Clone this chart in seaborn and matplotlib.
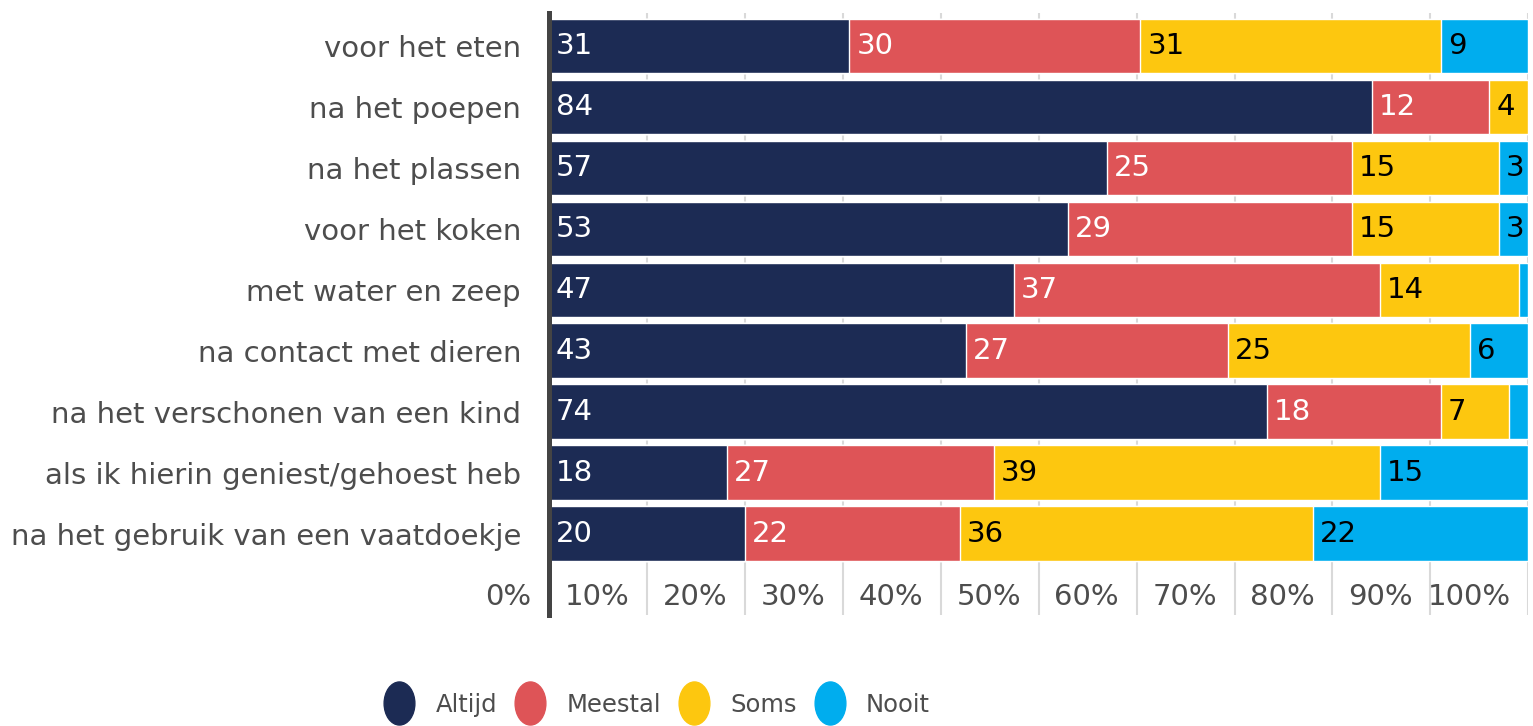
import matplotlib
matplotlib.use("Agg")
import matplotlib.pyplot as plt
import pandas as pd
import seaborn as sns
from matplotlib.lines import Line2D
from matplotlib.path import Path
from matplotlib.transforms import Affine2D

# data (counts per answer, rows are normalised to 100%)
categories = [
    "voor het eten",
    "na het poepen",
    "na het plassen",
    "voor het koken",
    "met water en zeep",
    "na contact met dieren",
    "na het verschonen van een kind",
    "als ik hierin geniest/gehoest heb",
    "na het gebruik van een vaatdoekje",
]
altijd = [31, 84, 57, 53, 47, 43, 74, 18, 20]
meestal = [30, 12, 25, 29, 37, 27, 18, 27, 22]
soms = [31, 4, 15, 15, 14, 25, 7, 39, 36]
nooit = [9, 0, 3, 3, 1, 6, 2, 15, 22]
series = ["Altijd", "Meestal", "Soms", "Nooit"]
colors = ["#1c2b54", "#de5457", "#fdc70f", "#00adee"]
text_colors = ["white", "white", "black", "black"]
tick_values = [0, 10, 20, 30, 40, 50, 60, 70, 80, 90, 100]

df = pd.DataFrame({"categorie": categories, "Altijd": altijd, "Meestal": meestal,
                   "Soms": soms, "Nooit": nooit})
totals = df[series].sum(axis=1)
pct = df[series].div(totals, axis=0) * 100
cum = pct.cumsum(axis=1)

sns.set_style("white")
plt.rcParams["font.family"] = ["DejaVu Sans"]
grey = "#4d4d4d"

fig = plt.figure(figsize=(15.33, 7.26), dpi=100)
ax = fig.add_axes([0.358, 0.153, 0.639, 0.829])

# stacked bars: draw cumulative totals back to front
for name, color in reversed(list(zip(series, colors))):
    sns.barplot(x=cum[name], y=df["categorie"], color=color, saturation=1,
                width=0.9, orient="h", errorbar=None, ax=ax)

# value labels at the left of each segment (small ones are left out)
for i in range(len(categories)):
    for name, tc in zip(series, text_colors):
        v = df[name][i]
        if v >= 3:
            left = cum[name][i] - pct[name][i]
            ax.text(left + 0.7, i, str(v), color=tc, ha="left", va="center", fontsize=21)

ax.set_xlim(0, 100)
ax.set_ylim(9.33, -0.541)
ax.set_xlabel("")
ax.set_ylabel("")
ax.set_xticks(tick_values)
ax.set_axisbelow(True)
ax.grid(axis="x", color="#d9d9d9", linewidth=1.5)
ax.tick_params(axis="x", labelbottom=False, length=0)
ax.tick_params(axis="y", length=0, pad=20, labelsize=21, labelcolor=grey)

# percentage labels sit just left of each gridline
for t in tick_values:
    ax.text(t - 1.8, 9.03, f"{t}%", ha="right", va="center", color=grey, fontsize=21)

sns.despine(ax=ax, top=True, right=True, bottom=True)
ax.spines["left"].set_linewidth(3.6)
ax.spines["left"].set_color("#444444")

# legend looks horizontally squeezed in the original: tall ellipses, compact text
ell = Path.unit_circle().transformed(Affine2D().scale(1, 1.4))
handles = [Line2D([], [], ls="none", marker=ell, markersize=31,
                  markerfacecolor=c, markeredgecolor=c) for c in colors]
fig.legend(handles, series, loc="center", bbox_to_anchor=(0.4284, 0.029), ncol=4,
           frameon=False, fontsize=17.5, handlelength=1.3, handletextpad=0.83,
           columnspacing=0.72, labelcolor=grey, borderpad=0, borderaxespad=0)

fig.savefig("out.png", dpi=100)
